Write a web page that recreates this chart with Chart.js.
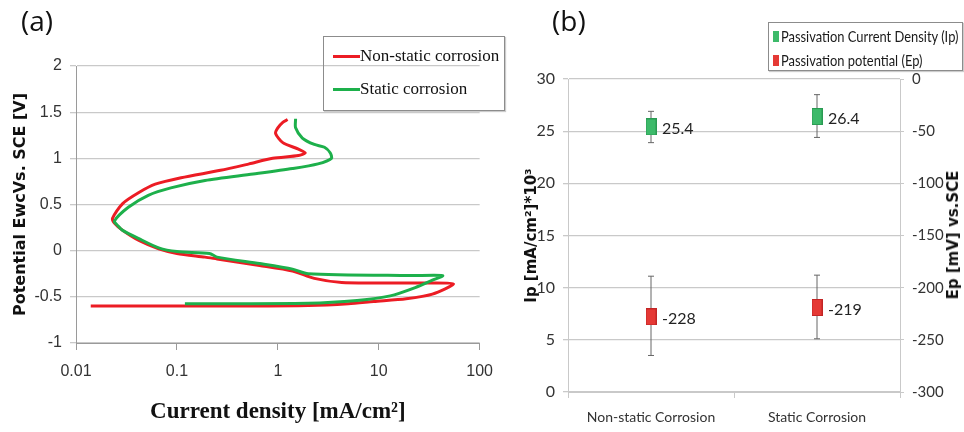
<!DOCTYPE html>
<html>
<head>
<meta charset="utf-8">
<script src="https://cdn.jsdelivr.net/npm/chart.js@4/dist/chart.umd.min.js"></script>
<style>
  body { margin: 0; width: 964px; height: 432px; background: #fff; position: relative; overflow: hidden; }
  canvas { position: absolute; top: 0; }
  #chartA { left: 0; }
  #chartB { left: 505px; }
  .panel { position: absolute; font: 28px "Open Sans", sans-serif; color: #111; line-height: 30px; }
  .box { position: absolute; border: 1px solid #8c8c8c; box-shadow: 1px 1px 1px #ccc; }
  .row { position: absolute; left: 0; display: flex; align-items: center; white-space: nowrap; }
  .legA { font: 17px "Liberation Serif", serif; color: #111; height: 20px; }
  .legA .ln { width: 27px; height: 3px; margin-left: 9px; }
  .legB { font: 15px Lato, sans-serif; color: #1a1a1a; height: 16px; }
  .legB .sq { width: 6px; height: 11px; margin-left: 4px; margin-right: 2px; }
  .legB .tx { display: inline-block; transform: scaleX(0.86); transform-origin: left center; }
  #epTitle { position: absolute; left: 953px; top: 235px; transform: translate(-50%, -50%) rotate(-90deg);
             font: bold 15px "DejaVu Sans", sans-serif; color: #111; white-space: nowrap; }
</style>
</head>
<body>
<canvas id="chartA" width="505" height="432"></canvas>
<canvas id="chartB" width="459" height="432"></canvas>

<div class="panel" style="left:21px;top:5px">(a)</div>
<div class="panel" style="left:552px;top:5px">(b)</div>

<div class="box" style="left:323px;top:36px;width:180px;height:73px">
  <div class="row legA" style="top:9px"><span class="ln" style="background:#ec1c24"></span>Non-static corrosion</div>
  <div class="row legA" style="top:42px"><span class="ln" style="background:#1db04b"></span>Static corrosion</div>
</div>

<div class="box" style="left:768px;top:22px;width:193px;height:47px">
  <div class="row legB" style="top:5px"><span class="sq" style="background:#3dba6a"></span><span class="tx">Passivation Current Density (Ip)</span></div>
  <div class="row legB" style="top:29px"><span class="sq" style="background:#e53935"></span><span class="tx">Passivation potential (Ep)</span></div>
</div>

<div id="epTitle">Ep [mV] vs.SCE</div>

<script>
// ---- panel (a): polarisation curves, current density [mA/cm2] vs potential [V]
const nonStaticI = [0.014, 0.5, 2.0, 5, 8.9, 18.7, 34, 55, 30, 10, 4.3, 2.3, 1.4, 0.66, 0.25, 0.19, 0.10, 0.066, 0.042, 0.029,
  0.024, 0.023, 0.029, 0.042, 0.061, 0.11, 0.27, 0.52, 0.89, 1.6, 1.87, 1.6, 1.12, 0.95, 1.0, 1.12, 1.25];
const nonStaticE = [-0.6, -0.6, -0.595, -0.575, -0.55, -0.52, -0.47, -0.36, -0.35, -0.35, -0.345, -0.3, -0.22, -0.16, -0.09, -0.07, -0.03, 0.02, 0.11, 0.22,
  0.3, 0.35, 0.51, 0.63, 0.72, 0.79, 0.87, 0.94, 1.0, 1.03, 1.06, 1.1, 1.17, 1.27, 1.33, 1.39, 1.42];
const staticI = [0.12, 2.0, 6.1, 13, 23, 34, 43, 20, 2.0, 1.4, 0.66, 0.25, 0.21, 0.10, 0.066, 0.042, 0.029,
  0.026, 0.024, 0.033, 0.052, 0.087, 0.19, 0.57, 1.4, 2.5, 3.4, 3.3, 2.9, 2.3, 1.75, 1.5, 1.5];
const staticE = [-0.575, -0.57, -0.54, -0.49, -0.4, -0.32, -0.27, -0.27, -0.25, -0.2, -0.14, -0.07, -0.03, -0.01, 0.03, 0.13, 0.22,
  0.27, 0.32, 0.47, 0.6, 0.68, 0.76, 0.83, 0.89, 0.94, 1.0, 1.06, 1.12, 1.15, 1.22, 1.33, 1.43];
const xTicksA = [0.01, 0.1, 1, 10, 100];
const xTickLabelsA = ["0.01", "0.1", "1", "10", "100"];

// ---- panel (b): passivation current density / potential with error bars
const categories = ["Non-static Corrosion", "Static Corrosion"];
const ipValues = [25.4, 26.4];
const ipLow = [23.9, 24.4];
const ipHigh = [26.9, 28.5];
const epValues = [-228, -219];
const epLow = [-265, -249];
const epHigh = [-189, -188];

const RED = "#ec1c24";
const GREEN = "#1db04b";
const tickColor = "#333";
const gridColor = "#c9c9c9";

function pairs(xs, ys) {
  return xs.map((x, i) => ({ x: x, y: ys[i] }));
}

new Chart(document.getElementById("chartA"), {
  type: "scatter",
  data: {
    datasets: [
      { label: "Static corrosion", data: pairs(staticI, staticE), borderColor: GREEN, backgroundColor: GREEN,
        showLine: true, pointRadius: 0, borderWidth: 3, tension: 0.25 },
      { label: "Non-static corrosion", data: pairs(nonStaticI, nonStaticE), borderColor: RED, backgroundColor: RED,
        showLine: true, pointRadius: 0, borderWidth: 3, tension: 0.25 },
    ],
  },
  options: {
    responsive: false,
    animation: false,
    layout: { padding: { top: 66, right: 18, left: 0, bottom: 0 } },
    plugins: { legend: { display: false }, tooltip: { enabled: false } },
    scales: {
      x: {
        type: "logarithmic",
        min: 0.01,
        max: 100,
        afterBuildTicks: (s) => { s.ticks = xTicksA.map((v) => ({ value: v })); },
        afterFit: (s) => { s.height = 89; },
        ticks: {
          callback: (v, i) => xTickLabelsA[i],
          autoSkip: false, maxRotation: 0, padding: 12,
          color: tickColor, font: { family: "Liberation Sans", size: 16 },
        },
        grid: { drawOnChartArea: false, tickLength: 7, color: "#9a9a9a" },
        border: { color: "#9a9a9a" },
        title: {
          display: true, text: "Current density [mA/cm²]", color: "#111",
          font: { family: "Liberation Serif", size: 23, weight: "bold" },
          padding: { top: 0, bottom: 6 },
        },
      },
      y: {
        min: -1,
        max: 2,
        afterFit: (s) => { s.width = 76; },
        ticks: {
          stepSize: 0.5, padding: 8, color: tickColor, font: { family: "Liberation Sans", size: 16 },
          callback: (v) => String(Math.round(v * 10) / 10),
        },
        grid: { color: gridColor, tickLength: 6, lineWidth: 1.3 },
        border: { color: "#9a9a9a" },
        title: {
          display: true, text: "Potential EwcVs. SCE [V]", color: "#111",
          font: { family: "DejaVu Sans", size: 16, weight: "bold" },
          padding: { top: 11, bottom: 0 },
        },
      },
    },
  },
});

function marker(fill, stroke) {
  const c = document.createElement("canvas");
  c.width = 11;
  c.height = 17;
  const g = c.getContext("2d");
  g.fillStyle = fill;
  g.fillRect(0, 0, 11, 17);
  g.strokeStyle = stroke;
  g.lineWidth = 1;
  g.strokeRect(0.5, 0.5, 10, 16);
  return c;
}

const errorBars = {
  id: "errorBars",
  beforeDatasetsDraw(chart) {
    const ctx = chart.ctx;
    chart.data.datasets.forEach((ds, i) => {
      const meta = chart.getDatasetMeta(i);
      const sc = chart.scales[meta.yAxisID];
      meta.data.forEach((pt, j) => {
        const y1 = sc.getPixelForValue(ds.errLow[j]);
        const y2 = sc.getPixelForValue(ds.errHigh[j]);
        ctx.save();
        ctx.strokeStyle = "#666";
        ctx.lineWidth = 1;
        ctx.beginPath();
        ctx.moveTo(pt.x, y1); ctx.lineTo(pt.x, y2);
        ctx.moveTo(pt.x - 3, y1); ctx.lineTo(pt.x + 3, y1);
        ctx.moveTo(pt.x - 3, y2); ctx.lineTo(pt.x + 3, y2);
        ctx.stroke();
        ctx.restore();
      });
    });
  },
};

const valueLabels = {
  id: "valueLabels",
  afterDatasetsDraw(chart) {
    const ctx = chart.ctx;
    chart.data.datasets.forEach((ds, i) => {
      chart.getDatasetMeta(i).data.forEach((pt, j) => {
        ctx.save();
        ctx.fillStyle = "#222";
        ctx.font = "16px Lato, sans-serif";
        ctx.textAlign = "left";
        ctx.textBaseline = "middle";
        ctx.fillText(String(ds.data[j]), pt.x + 11, pt.y + 2);
        ctx.restore();
      });
    });
  },
};

const sansB = "Lato";

new Chart(document.getElementById("chartB"), {
  type: "line",
  data: {
    labels: categories,
    datasets: [
      { label: "Passivation Current Density (Ip)", data: ipValues, yAxisID: "y", showLine: false,
        pointStyle: marker("#3dba6a", "#2a9a52"), pointRadius: 8, errLow: ipLow, errHigh: ipHigh },
      { label: "Passivation potential (Ep)", data: epValues, yAxisID: "y2", showLine: false,
        pointStyle: marker("#e53935", "#c22525"), pointRadius: 8, errLow: epLow, errHigh: epHigh },
    ],
  },
  plugins: [errorBars, valueLabels],
  options: {
    responsive: false,
    animation: false,
    layout: { padding: { top: 79, right: 0, left: 0, bottom: 0 } },
    plugins: { legend: { display: false }, tooltip: { enabled: false } },
    scales: {
      x: {
        offset: true,
        afterFit: (s) => { s.height = 40; },
        ticks: { padding: 11, color: tickColor, font: { family: sansB, size: 14 } },
        grid: { offset: true, drawOnChartArea: false, tickLength: 6, color: gridColor },
        border: { color: gridColor },
      },
      y: {
        position: "left",
        min: 0,
        max: 30,
        afterFit: (s) => { s.width = 63; },
        ticks: { stepSize: 5, padding: 8, color: tickColor, font: { family: sansB, size: 16 } },
        grid: { color: gridColor, tickLength: 5, lineWidth: 1.3 },
        border: { color: gridColor },
        title: {
          display: true, text: "Ip [mA/cm²]*10³", color: "#111",
          font: { family: "DejaVu Sans", size: 15, weight: "bold" },
          padding: { top: 18, bottom: 0 },
        },
      },
      y2: {
        position: "right",
        min: -300,
        max: 0,
        afterFit: (s) => { s.width = 64; },
        ticks: { stepSize: 50, padding: 8, color: tickColor, font: { family: sansB, size: 15 } },
        grid: { drawOnChartArea: false, tickLength: 4, color: gridColor },
        border: { color: gridColor },
      },
    },
  },
});
</script>
</body>
</html>
